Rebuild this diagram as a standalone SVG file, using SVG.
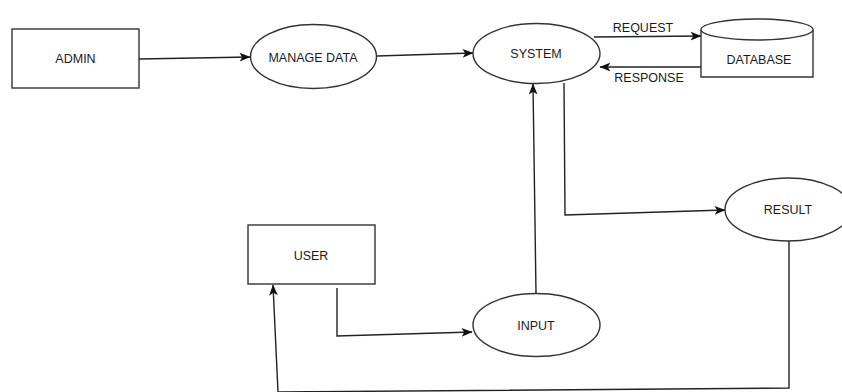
<svg xmlns="http://www.w3.org/2000/svg" width="842" height="392" viewBox="0 0 842 392">
  <style>
    .shape { fill: #ffffff; stroke: #333333; stroke-width: 1.4; }
    .edge { fill: none; stroke: #222222; stroke-width: 1.4; }
    .label { font-family: "Liberation Sans", Arial, sans-serif; font-size: 12.5px; fill: #1a1a1a; text-anchor: middle; }
  </style>
  <defs>
    <marker id="arrow" viewBox="0 0 10 10" refX="9.5" refY="5" markerWidth="11" markerHeight="11" markerUnits="userSpaceOnUse" orient="auto">
      <path d="M0,1 L10,5 L0,9 L2.5,5 z" fill="#111111"/>
    </marker>
  </defs>
  <rect width="842" height="392" fill="#ffffff"/>

  <g id="connectors">
    <!-- ADMIN -> MANAGE DATA -->
    <path class="edge" d="M139,59 L250,57" marker-end="url(#arrow)"/>
    <!-- MANAGE DATA -> SYSTEM -->
    <path class="edge" d="M377,56 L473,53" marker-end="url(#arrow)"/>
    <!-- SYSTEM -> DATABASE (request) -->
    <path class="edge" d="M594,37 L701,36" marker-end="url(#arrow)"/>
    <!-- DATABASE -> SYSTEM (response) -->
    <path class="edge" d="M701,67 L600,67" marker-end="url(#arrow)"/>
    <!-- SYSTEM -> RESULT -->
    <path class="edge" d="M564,83 L565,215 L725,210" marker-end="url(#arrow)"/>
    <!-- INPUT -> SYSTEM -->
    <path class="edge" d="M536,293 L533,84" marker-end="url(#arrow)"/>
    <!-- USER -> INPUT -->
    <path class="edge" d="M337,288 L337,336 L472,332" marker-end="url(#arrow)"/>
    <!-- RESULT -> USER -->
    <path class="edge" d="M789,241 L789,388 L278,392 L273,285" marker-end="url(#arrow)"/>
  </g>

  <g id="edge-labels">
    <text class="label" x="643" y="32">REQUEST</text>
    <text class="label" x="649" y="82">RESPONSE</text>
  </g>

  <g id="admin">
    <rect class="shape" x="12" y="29" width="127" height="59"/>
    <text class="label" x="75.5" y="63">ADMIN</text>
  </g>

  <g id="manage-data">
    <ellipse class="shape" cx="313.5" cy="56.5" rx="63" ry="32"/>
    <text class="label" x="313" y="61.5">MANAGE DATA</text>
  </g>

  <g id="system">
    <ellipse class="shape" cx="536.5" cy="53.5" rx="63.5" ry="30"/>
    <text class="label" x="536" y="58">SYSTEM</text>
  </g>

  <g id="database">
    <path class="shape" d="M701,29.5 L701,77 L813,77 L813,29.5"/>
    <ellipse class="shape" cx="757" cy="29.5" rx="56" ry="10.5"/>
    <text class="label" x="759" y="63.5">DATABASE</text>
  </g>

  <g id="result">
    <ellipse class="shape" cx="788" cy="209.5" rx="63" ry="31.5"/>
    <text class="label" x="788" y="214">RESULT</text>
  </g>

  <g id="user">
    <rect class="shape" x="248" y="225" width="127" height="59"/>
    <text class="label" x="311" y="259.5">USER</text>
  </g>

  <g id="input">
    <ellipse class="shape" cx="536.5" cy="325" rx="63.5" ry="31.5"/>
    <text class="label" x="536" y="330">INPUT</text>
  </g>
</svg>
